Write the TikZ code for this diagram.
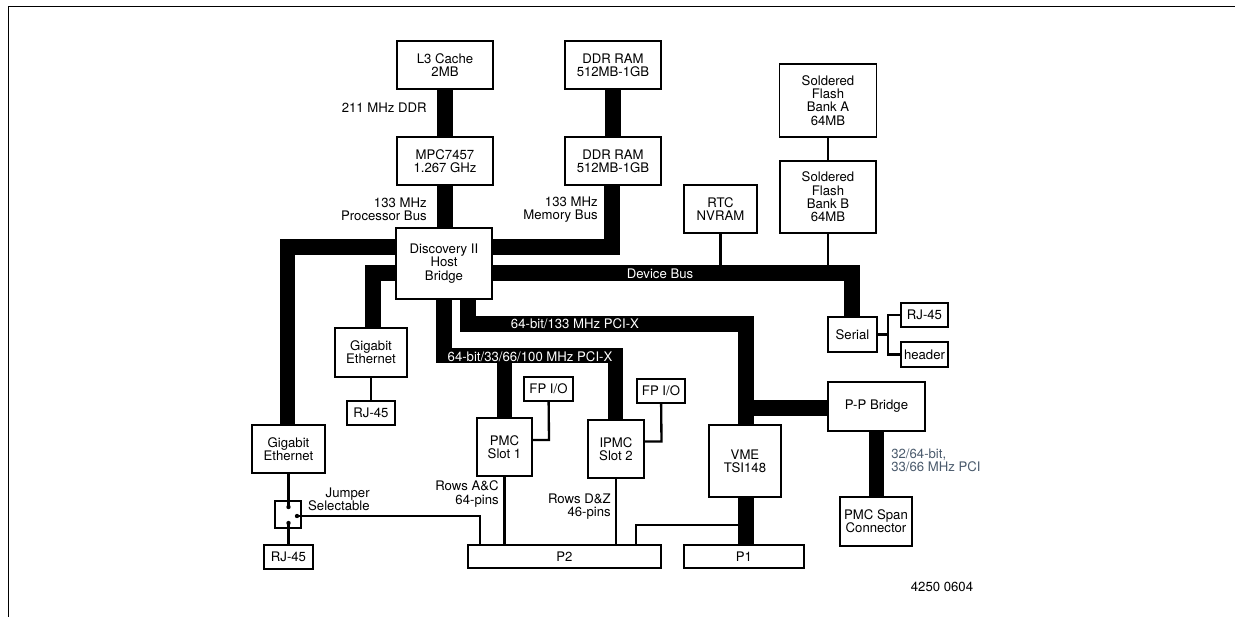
\documentclass[tikz,border=0pt]{standalone}
\usepackage{fontspec}
\setmainfont{TeX Gyre Heros}
\definecolor{pcigray}{HTML}{4A5A6C}

\begin{document}
\begin{tikzpicture}[x=0.6pt, y=-0.6pt,
    font=\fontsize{7.9}{8}\selectfont,
    blk/.style 2 args={draw, line width=0.8pt, fill=white, align=center, inner sep=0pt,
                       minimum width=#1*0.6pt, minimum height=#2*0.6pt},
    bus/.style={line width=9.3pt, line join=miter},
    con/.style={line width=1.4pt},
    buslbl/.style={text=white, inner sep=0pt},
    lbl/.style={align=right, anchor=east, inner sep=0pt}]
    \useasboundingbox (0,0) rectangle (1235,617);
    \draw[line width=1pt] (8.5,617) -- (8.5,6.5) -- (1235,6.5);

    % blocks
    \node[blk={96}{48}] (l3) at (445,65) {L3 Cache\\2MB};
    \node[blk={96}{48}] (ddra) at (613,65) {DDR RAM\\512MB-1GB};
    \node[blk={96}{48}] (cpu) at (445,161) {MPC7457\\1.267 GHz};
    \node[blk={96}{48}] (ddrb) at (613,161) {DDR RAM\\512MB-1GB};
    \node[blk={96}{71}] (host) at (444,263.5) {Discovery II\\Host\\Bridge};
    \node[blk={73}{48}] (rtc) at (720.5,209) {RTC\\NVRAM};
    \node[blk={97}{73}] (flasha) at (828,100.5) {Soldered\\Flash\\Bank A\\64MB};
    \node[blk={96}{72}] (flashb) at (828,197) {Soldered\\Flash\\Bank B\\64MB};
    \node[blk={49}{35}] (serial) at (852.5,334.5) {Serial};
    \node[blk={47}{24}] (rjs) at (924.5,315) {RJ-45};
    \node[blk={47}{25}] (hdr) at (924.5,354.5) {header};
    \node[blk={72}{49}] (gem) at (371,352.5) {Gigabit\\Ethernet};
    \node[blk={48}{24}] (rjm) at (371,413) {RJ-45};
    \node[blk={73}{48}] (gel) at (288.5,449) {Gigabit\\Ethernet};
    \node[blk={26}{27}, line width=1.6pt] (jmp) at (288,514.5) {};
    \node[blk={49}{24}] (rjl) at (288.5,557) {RJ-45};
    \node[blk={55}{58}] (pmca) at (504.5,447) {PMC\\Slot 1};
    \node[blk={56}{58}] (pmcb) at (616,449) {IPMC\\Slot 2};
    \node[blk={49}{24}] (fpa) at (548.5,389) {FP I/O};
    \node[blk={48}{24}] (fpb) at (661,391) {FP I/O};
    \node[blk={193}{23}] (ptwo) at (564.5,556.5) {P2};
    \node[blk={72}{72}] (vme) at (745,461) {VME\\TSI148};
    \node[blk={120}{23}] (pone) at (744,556.5) {P1};
    \node[blk={97}{49}] (ppb) at (876.5,406.5) {P-P Bridge};
    \node[blk={72}{49}] (span) at (876,521.5) {PMC Span\\Connector};

    % bus corners
    \coordinate (memc) at (612,247);
    \coordinate (gea) at (287.5,247);
    \coordinate (geb) at (373,273);
    \coordinate (dbus) at (852,273);
    \coordinate (pxa) at (468,324);
    \coordinate (pxb) at (746,324);
    \coordinate (ppt) at (746,408);
    \coordinate (pxc) at (444,355.5);
    \coordinate (pxd) at (615.5,355.5);
    % jumper pins and taps
    \coordinate (jt) at (288.5,507);
    \coordinate (jb) at (288.5,523);
    \coordinate (jr) at (297,516);
    \coordinate (jx) at (480,516);
    \coordinate (ptap) at (636,525);
    \coordinate (vtap) at (746,525);
    \coordinate (fpak) at (549,440);
    \coordinate (fpbk) at (661.5,441.5);
    \coordinate (split) at (888,334.5);

    % thin connections
    \draw[con] (gem) -- (rjm);
    \draw[con] (gel) -- (jt);
    \draw[con] (rjl) -- (jb);
    \draw[con] (jr) -- (jx) -- (jx |- ptwo.north);
    \draw[con] (pmca) -- (pmca |- ptwo.north);
    \draw[con] (pmcb) -- (pmcb |- ptwo.north);
    \draw[con] (ptap |- ptwo.north) -- (ptap) -- (vtap);
    \draw[con] (fpa) -- (fpak) -- (fpak -| pmca.east);
    \draw[con] (fpb) -- (fpbk) -- (fpbk -| pmcb.east);
    \draw[con] (rtc) -- (rtc |- dbus);
    \draw[con] (flasha) -- (flashb);
    \draw[con] (flashb) -- (flashb |- dbus);
    \draw[con] (serial) -- (split);
    \draw[con] (rjs.west) -| (split) |- (hdr.west);
    \foreach \p in {jt,jb,jr}
      \fill (\p) circle [radius=1.3pt];

    % buses
    \draw[bus] (l3) -- (cpu);
    \draw[bus] (cpu.south) -- (cpu.south |- host.north);
    \draw[bus] (ddra) -- (ddrb);
    \draw[bus] (ddrb.south -| memc) -- (memc) -- (memc -| host.east);
    \draw[bus] (gea -| host.west) -- (gea) -- (gea |- gel.north);
    \draw[bus] (geb -| host.west) -- (geb) -- (geb |- gem.north);
    \draw[bus] (dbus -| host.east) -- (dbus) -- (dbus |- serial.north);
    \draw[bus] (pxa |- host.south) -- (pxa) -- (pxb) -- (pxb |- vme.north);
    \draw[bus] (ppt) -- (ppt -| ppb.west);
    \draw[bus] (vme.south -| pxb) -- (pone.north -| pxb);
    \draw[bus] (ppb.south) -- (ppb.south |- span.north);
    \draw[bus] (pxc |- host.south) -- (pxc) -- (pxd) -- (pxd |- pmcb.north);
    \draw[bus] (pmca.north |- pxd) -- (pmca.north);

    % labels
    \node[buslbl] (dbuslbl) at (660,274) {Device Bus};
    \node[buslbl] (pxalbl) at (575,324) {64-bit/133 MHz PCI-X};
    \node[buslbl] (pxclbl) at (530,356.5) {64-bit/33/66/100 MHz PCI-X};
    \node[lbl] (l3lbl) at (427,108) {211 MHz DDR};
    \node[lbl] (cpulbl) at (427,209.5) {133 MHz\\Processor Bus};
    \node[lbl] (memlbl) at (598,209.5) {133 MHz\\Memory Bus};
    \node[lbl] (rowalbl) at (499,494) {Rows A\&C\\64-pins};
    \node[lbl] (rowblbl) at (611,506.5) {Rows D\&Z\\46-pins};
    \node[lbl] (jmplbl) at (370,499.5) {Jumper\\Selectable};
    \node[anchor=west, align=left, text=pcigray, inner sep=0pt] (pcilbl) at (891,460) {32/64-bit,\\33/66 MHz PCI};
    \node[inner sep=0pt] (figno) at (942,587) {4250 0604};
\end{tikzpicture}
\end{document}
